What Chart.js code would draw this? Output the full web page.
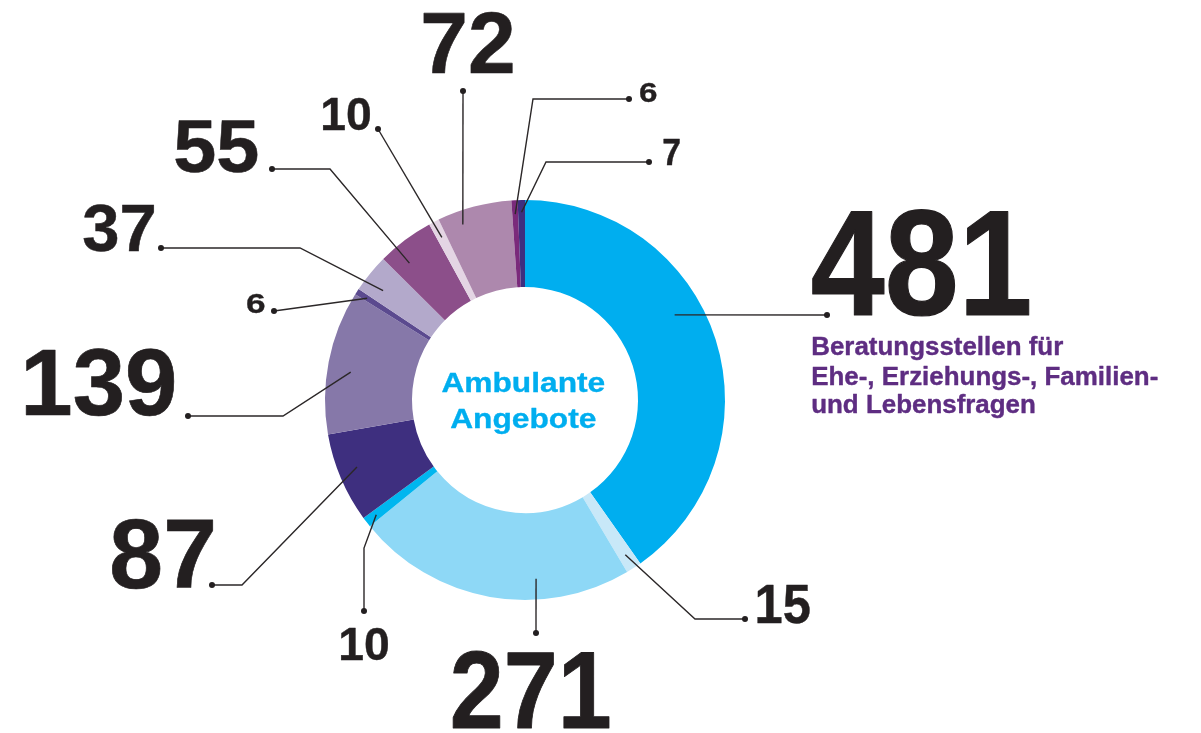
<!DOCTYPE html>
<html>
<head>
<meta charset="utf-8">
<script src="https://cdn.jsdelivr.net/npm/chart.js@4/dist/chart.umd.min.js"></script>
<style>
  html, body { margin: 0; padding: 0; background: #ffffff; }
  #wrap { width: 1201px; height: 733px; position: relative; }
</style>
</head>
<body>
<div id="wrap"><canvas id="c" width="1201" height="733"></canvas></div>
<script>
// ---- data ----
const categories = [
  'Beratungsstellen für Ehe-, Erziehungs-, Familien- und Lebensfragen',
  'Angebot 2', 'Angebot 3', 'Angebot 4', 'Angebot 5', 'Angebot 6', 'Angebot 7',
  'Angebot 8', 'Angebot 9', 'Angebot 10', 'Angebot 11', 'Angebot 12', 'Angebot 13'
];
const values = [481, 15, 271, 10, 87, 139, 6, 37, 55, 10, 72, 6, 7];
const centerTitle = ['Ambulante', 'Angebote'];
const highlightDescription = ['Beratungsstellen für', 'Ehe-, Erziehungs-, Familien-', 'und Lebensfragen'];

// ---- styles ----
const sliceColors = [
  '#00AEEF', '#C8E8F8', '#8ED8F6', '#00B6EF', '#3E2F7F', '#8678A9', '#5B4A8F',
  '#B3A9CB', '#8C4F8A', '#E4D5E4', '#AD88AD', '#7A2A7B', '#3E2F7F'
];
const FONT = '"Liberation Sans", Arial, Helvetica, sans-serif';
const INK = '#231F20';

// leader-line / label layout per slice
// t: position within slice angle, rf: radial fraction in ring, box: ink box [left, top, right, baseline]
const labelLayout = [
  { t: 0.417, rf: 0.68, elbow: null,       dot: [827, 315], box: [812, 210, 1030, 316] },
  { t: 0.5,   rf: 0.82, elbow: [695, 619], dot: [745, 619], box: [757, 584, 810, 623] },
  { t: 0.333, rf: 0.76, elbow: null,       dot: [536, 633], box: [452, 650, 610, 728] },
  { t: 0.5,   rf: 0.86, elbow: [364, 548], dot: [364, 611], box: [340, 627, 388, 660] },
  { t: 0.55,  rf: 0.78, elbow: [242, 585], dot: [212, 585], box: [112, 519, 213, 588] },
  { t: 0.455, rf: 0.73, elbow: [283, 416], dot: [188, 416], box: [25, 348, 175, 415] },
  { t: 0.5,   rf: 0.86, elbow: null,       dot: [274, 311], box: [247, 293, 265, 313] },
  { t: 0.35,  rf: 0.76, elbow: [300, 248], dot: [161, 248], box: [83, 204, 155, 251] },
  { t: 0.3,   rf: 0.76, elbow: [330, 169], dot: [272, 169], box: [175, 120, 258, 172] },
  { t: 0.5,   rf: 0.80, elbow: null,       dot: [378, 129], box: [322, 97, 370, 130] },
  { t: 0.28,  rf: 0.84, elbow: null,       dot: [463, 91],  box: [423, 12, 513, 73] },
  { t: 0.5,   rf: 0.84, elbow: [533, 99],  dot: [629, 99],  box: [640, 82, 657, 102] },
  { t: 0.5,   rf: 0.86, elbow: [546, 162], dot: [649, 162], box: [663, 139, 680, 165] }
];

// font size so that `sizer` has the given ink height; horizontal scale so `text` has the given ink width
function fitMetrics(ctx, text, sizer, heightPx, widthPx, stroke) {
  ctx.font = 'bold 100px ' + FONT;
  const m = ctx.measureText(sizer);
  const size = 100 * (heightPx - stroke) / m.actualBoundingBoxAscent;
  ctx.font = 'bold ' + size + 'px ' + FONT;
  const m2 = ctx.measureText(text);
  const inkW = m2.actualBoundingBoxLeft + m2.actualBoundingBoxRight;
  const sx = widthPx ? (widthPx - stroke) / inkW : 1;
  return { size, sx, left: m2.actualBoundingBoxLeft, inkW };
}
function drawScaled(ctx, text, fm, inkLeft, baseline, color, stroke) {
  ctx.save();
  ctx.font = 'bold ' + fm.size + 'px ' + FONT;
  ctx.textAlign = 'left';
  ctx.textBaseline = 'alphabetic';
  ctx.translate(inkLeft + stroke / 2, baseline - stroke / 2);
  ctx.scale(fm.sx, 1);
  ctx.fillStyle = color;
  ctx.fillText(text, fm.left, 0);
  if (stroke > 0) {
    ctx.strokeStyle = color;
    ctx.lineJoin = 'round';
    ctx.lineWidth = stroke / fm.sx;
    ctx.strokeText(text, fm.left, 0);
  }
  ctx.restore();
}

const leaderPlugin = {
  id: 'leaders',
  afterDraw(chart) {
    const ctx = chart.ctx;
    const meta = chart.getDatasetMeta(0);
    ctx.save();
    meta.data.forEach((arc, i) => {
      const L = labelLayout[i];
      if (!L) return;
      const p = arc.getProps(['x', 'y', 'startAngle', 'endAngle', 'innerRadius', 'outerRadius'], true);
      const a = p.startAngle + L.t * (p.endAngle - p.startAngle);
      const r = p.innerRadius + L.rf * (p.outerRadius - p.innerRadius);
      const ax = p.x + r * Math.cos(a);
      const ay = p.y + r * Math.sin(a);
      ctx.strokeStyle = '#2b2728';
      ctx.lineWidth = 1.4;
      ctx.beginPath();
      ctx.moveTo(ax, ay);
      if (L.elbow) ctx.lineTo(L.elbow[0], L.elbow[1]);
      ctx.lineTo(L.dot[0], L.dot[1]);
      ctx.stroke();
      ctx.fillStyle = INK;
      ctx.beginPath();
      ctx.arc(L.dot[0], L.dot[1], 3, 0, Math.PI * 2);
      ctx.fill();
      const txt = String(chart.data.datasets[0].data[i]);
      const [l, t, rr, b] = L.box;
      const stroke = Math.max(0.4, (b - t) * 0.01);
      const fm = fitMetrics(ctx, txt, txt, b - t, rr - l, stroke);
      drawScaled(ctx, txt, fm, l, b, INK, stroke);
    });
    // description of the largest slice
    {
      const st = 0.4;
      const fm = fitMetrics(ctx, highlightDescription[1], 'E', 18, 346, st);
      const baselines = [355.5, 385, 413.5];
      highlightDescription.forEach((line, k) => {
        ctx.font = 'bold ' + fm.size + 'px ' + FONT;
        const m = ctx.measureText(line);
        drawScaled(ctx, line, { size: fm.size, sx: fm.sx, left: m.actualBoundingBoxLeft }, 812, baselines[k], '#5E2D82', st);
      });
    }
    // centre title
    {
      const c = meta.data[0];
      const st = 0.4;
      const fmA = fitMetrics(ctx, centerTitle[0], 'A', 19.5, 164, st);
      const lines = [[centerTitle[0], 392], [centerTitle[1], 428.3]];
      lines.forEach(([txt, bl]) => {
        ctx.font = 'bold ' + fmA.size + 'px ' + FONT;
        const m = ctx.measureText(txt);
        const inkW = (m.actualBoundingBoxLeft + m.actualBoundingBoxRight) * fmA.sx;
        drawScaled(ctx, txt, { size: fmA.size, sx: fmA.sx, left: m.actualBoundingBoxLeft },
          c.x - 2 - inkW / 2, bl, '#00AEEF', st);
      });
    }
    ctx.restore();
  }
};

new Chart(document.getElementById('c'), {
  type: 'doughnut',
  data: {
    labels: categories,
    datasets: [{
      data: values,
      backgroundColor: sliceColors,
      borderWidth: 0,
      hoverOffset: 0
    }]
  },
  options: {
    responsive: false,
    animation: false,
    events: [],
    cutout: '56.5%',
    rotation: 0,
    layout: { padding: { left: 325, right: 476, top: 200, bottom: 133 } },
    plugins: { legend: { display: false }, tooltip: { enabled: false } }
  },
  plugins: [leaderPlugin]
});
</script>
</body>
</html>
